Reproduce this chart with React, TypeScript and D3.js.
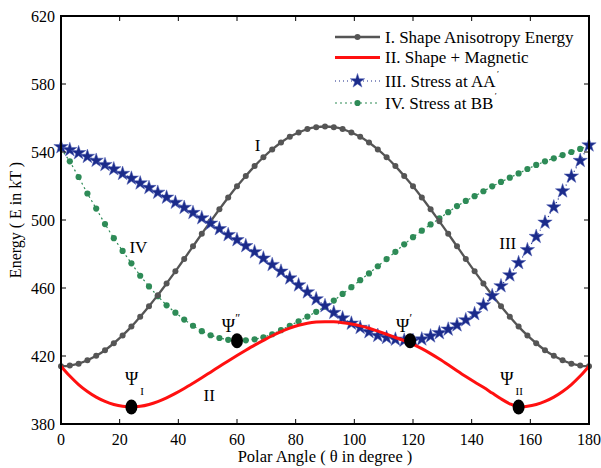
import React, { useRef, useEffect } from "react";
import * as d3 from "d3";

// polar angle grid (degrees)
const angles = [
    0, 3, 6, 9, 12, 15, 18, 21, 24, 27, 30, 33, 36, 39, 42, 45, 48, 51, 54, 57, 60,
    63, 66, 69, 72, 75, 78, 81, 84, 87, 90, 93, 96, 99, 102, 105, 108, 111, 114, 117, 120,
    123, 126, 129, 132, 135, 138, 141, 144, 147, 150, 153, 156, 159, 162, 165, 168, 171, 174, 177, 180,
];

// I. Shape Anisotropy Energy
const shapeEnergy = [
    414, 414.4, 415.5, 417.5, 420.1, 423.4, 427.5, 432.1, 437.3, 443.1, 449.3,
    455.8, 462.7, 469.8, 477.1, 484.5, 491.9, 499.2, 506.3, 513.2, 519.8,
    525.9, 531.7, 536.9, 541.5, 545.6, 548.9, 551.5, 553.5, 554.6, 555,
    554.6, 553.5, 551.5, 548.9, 545.6, 541.5, 536.9, 531.7, 525.9, 519.8,
    513.2, 506.3, 499.2, 491.9, 484.5, 477.1, 469.8, 462.7, 455.8, 449.3,
    443.1, 437.3, 432.1, 427.5, 423.4, 420.1, 417.5, 415.5, 414.4, 414,
];

// II. Shape + Magnetic
const shapeMagnetic = [
    414, 408.2, 403.2, 399.1, 395.8, 393.3, 391.5, 390.4, 390, 390.4, 391.5,
    393.2, 395.4, 398, 400.9, 404, 407.2, 410.5, 413.8, 417.1, 420.3,
    423.4, 426.4, 429.2, 431.9, 434.3, 436.4, 438.1, 439.3, 440, 440.2,
    440.1, 439.6, 438.8, 437.7, 436.3, 434.6, 432.8, 430.9, 429, 426.8,
    424.3, 421.4, 418.2, 414.8, 411.3, 407.9, 404.7, 401.6, 398.2, 394.8,
    391.9, 390, 390.4, 391.5, 393.3, 395.8, 399.1, 403.2, 408.2, 414,
];

// III. Stress at AA'
const stressAA = [
    543, 541.3, 539.5, 537.3, 535, 532.5, 530, 527.3, 524.5, 521.7, 519,
    516.2, 513.3, 510.3, 507.3, 504.3, 501.2, 498, 494.8, 491.3, 488.3,
    484.8, 481.2, 477.5, 473.7, 469.8, 465.8, 461.7, 457.6, 453.5, 449.5,
    445.5, 442.3, 439.2, 436.7, 434.2, 432, 430.8, 429.8, 429.2, 429,
    429.9, 431.7, 433.6, 435.7, 438.2, 441.2, 444.8, 450, 455.4, 461.2,
    467.6, 474.8, 482.4, 490.2, 498.6, 507.6, 517, 525.7, 534.9, 544,
];

// IV. Stress at BB'
const stressBB = [
    542, 534.5, 525.3, 515.6, 506.7, 497.6, 489.3, 481.8, 474.5, 467.2, 460.9,
    455.2, 449.8, 445.5, 441.4, 437.8, 434.6, 432.2, 430.6, 429.5, 429,
    429.2, 429.8, 431, 432.8, 435.2, 437.8, 440.4, 443.2, 446, 449,
    452.6, 456.5, 460.5, 464.6, 468.6, 472.8, 477, 481.3, 485.7, 489.9,
    493.7, 497.4, 500.9, 504.6, 508.2, 511.2, 514, 516.9, 519.8, 522.4,
    524.9, 527.4, 530, 532.4, 534.5, 536.3, 538.2, 540, 541.8, 543.5,
];

const xTicks = [0, 20, 40, 60, 80, 100, 120, 140, 160, 180];
const yTicks = [380, 420, 460, 500, 540, 580, 620];

// marked minima: angle, energy, label suffix
const minimaAngles = [24, 60, 119, 156];
const minimaEnergies = [390, 429, 429, 390];
const minimaSubs = ["I", "″", "′", "II"];

// curve labels: text, angle, energy
const curveNames = ["I", "II", "III", "IV"];
const curveNameAngles = [67, 50.5, 152.3, 26.4];
const curveNameEnergies = [544, 397, 486.6, 484.3];

const legendLabels = [
    "I.  Shape Anisotropy Energy",
    "II. Shape + Magnetic",
    "III. Stress at AA",
    "IV. Stress at BB",
];

const FONT = '"Liberation Serif", "Times New Roman", "DejaVu Serif", serif';

const App = () => {
    const ref = useRef(null);

    useEffect(() => {
        const svg = d3.select(ref.current);
        svg.selectAll("*").remove();

        const left = 61, right = 589, top = 16, bottom = 424;

        const x = d3.scaleLinear().domain([0, 180]).range([left, right]);
        const y = d3.scaleLinear().domain([380, 620]).range([bottom, top]);

        const gray = "#555555";
        const red = "#ff1010";
        const blue = "#1b2b8a";
        const green = "#2e8b57";

        const txt = (g, size) =>
            g.append("text")
                .style("font-family", FONT)
                .style("font-size", size + "px")
                .attr("fill", "black");

        const line = d3
            .line()
            .x((d) => x(d[0]))
            .y((d) => y(d[1]));

        const smooth = d3
            .line()
            .x((d) => x(d[0]))
            .y((d) => y(d[1]))
            .curve(d3.curveCatmullRom);

        const pts = (vals) => angles.map((a, i) => [a, vals[i]]);

        const plot = svg.append("g");

        // IV green dash-dot with dots
        plot.append("path")
            .datum(pts(stressBB))
            .attr("fill", "none")
            .attr("stroke", green)
            .attr("stroke-width", 1.2)
            .attr("stroke-dasharray", "2,3")
            .attr("d", line);
        plot.selectAll(".gdot")
            .data(pts(stressBB))
            .join("circle")
            .attr("cx", (d) => x(d[0]))
            .attr("cy", (d) => y(d[1]))
            .attr("r", 3.1)
            .attr("fill", green);

        // I gray solid with dots
        plot.append("path")
            .datum(pts(shapeEnergy))
            .attr("fill", "none")
            .attr("stroke", gray)
            .attr("stroke-width", 2.3)
            .attr("d", smooth);
        plot.selectAll(".kdot")
            .data(pts(shapeEnergy))
            .join("circle")
            .attr("cx", (d) => x(d[0]))
            .attr("cy", (d) => y(d[1]))
            .attr("r", 3)
            .attr("fill", gray);

        // III blue dotted with stars
        plot.append("path")
            .datum(pts(stressAA))
            .attr("fill", "none")
            .attr("stroke", blue)
            .attr("stroke-width", 1.2)
            .attr("stroke-dasharray", "1,3")
            .attr("d", line);
        const star = d3.symbol().type(d3.symbolStar).size(64);
        plot.selectAll(".star")
            .data(pts(stressAA))
            .join("path")
            .attr("transform", (d) => `translate(${x(d[0])},${y(d[1])})`)
            .attr("d", star)
            .attr("fill", blue)
            .attr("stroke", "#4e5eb4")
            .attr("stroke-width", 0.5);

        // II red
        plot.append("path")
            .datum(pts(shapeMagnetic))
            .attr("fill", "none")
            .attr("stroke", red)
            .attr("stroke-width", 3)
            .attr("d", smooth);

        // minima markers and labels
        minimaAngles.forEach((a, i) => {
            const cx = x(a), cy = y(minimaEnergies[i]);
            plot.append("ellipse")
                .attr("cx", cx)
                .attr("cy", cy)
                .attr("rx", 6)
                .attr("ry", 7.5)
                .attr("fill", "black");
            const sub = minimaSubs[i];
            const isPrime = sub === "′" || sub === "″";
            const lx = isPrime ? cx - 6 : cx + (i === 0 ? 3 : -7);
            const ly = isPrime ? cy - 9 : cy - 22;
            const t = txt(plot, 18)
                .attr("x", lx)
                .attr("y", ly)
                .attr("text-anchor", "middle")
                .text("Ψ");
            t.append("tspan")
                .style("font-size", (isPrime ? 12 : 11) + "px")
                .attr("dx", isPrime ? 0 : 2)
                .attr("dy", isPrime ? -10 : 10)
                .text(sub);
        });

        // curve names
        curveNames.forEach((n, i) => {
            txt(plot, 17)
                .attr("x", x(curveNameAngles[i]))
                .attr("y", y(curveNameEnergies[i]))
                .attr("dy", "0.35em")
                .attr("text-anchor", "middle")
                .text(n);
        });

        // frame
        svg.append("rect")
            .attr("x", left)
            .attr("y", top)
            .attr("width", right - left)
            .attr("height", bottom - top)
            .attr("fill", "none")
            .attr("stroke", "black")
            .attr("stroke-width", 2);

        // ticks (inward, all sides)
        const ticks = svg.append("g").attr("stroke", "black").attr("stroke-width", 1);
        xTicks.forEach((t) => {
            ticks.append("line").attr("x1", x(t)).attr("x2", x(t)).attr("y1", bottom).attr("y2", bottom - 5);
            ticks.append("line").attr("x1", x(t)).attr("x2", x(t)).attr("y1", top).attr("y2", top + 5);
        });
        yTicks.forEach((t) => {
            ticks.append("line").attr("x1", left).attr("x2", left + 5).attr("y1", y(t)).attr("y2", y(t));
            ticks.append("line").attr("x1", right).attr("x2", right - 5).attr("y1", y(t)).attr("y2", y(t));
        });

        const labels = svg.append("g");
        xTicks.forEach((t) => {
            txt(labels, 16)
                .attr("x", x(t))
                .attr("y", bottom + 21)
                .attr("text-anchor", "middle")
                .text(t);
        });
        yTicks.forEach((t) => {
            txt(labels, 16)
                .attr("x", left - 6)
                .attr("y", y(t))
                .attr("dy", "0.35em")
                .attr("text-anchor", "end")
                .text(t);
        });

        txt(labels, 16.5)
            .attr("x", (left + right) / 2)
            .attr("y", 462)
            .attr("text-anchor", "middle")
            .text("Polar Angle ( θ in degree )");

        txt(labels, 16)
            .attr("transform", `translate(21,${(top + bottom) / 2}) rotate(-90)`)
            .attr("text-anchor", "middle")
            .text("Energy ( E in kT )");

        // legend
        const lg = svg.append("g");
        const rows = [37, 57.5, 81, 103];
        const lx0 = 335, lx1 = 380;
        const mid = (lx0 + lx1) / 2;

        lg.append("line").attr("x1", lx0).attr("x2", lx1).attr("y1", rows[0]).attr("y2", rows[0])
            .attr("stroke", gray).attr("stroke-width", 2.3);
        lg.append("circle").attr("cx", mid).attr("cy", rows[0]).attr("r", 3).attr("fill", gray);

        lg.append("line").attr("x1", lx0).attr("x2", lx1).attr("y1", rows[1]).attr("y2", rows[1])
            .attr("stroke", red).attr("stroke-width", 3);

        lg.append("line").attr("x1", lx0).attr("x2", lx1).attr("y1", rows[2]).attr("y2", rows[2])
            .attr("stroke", blue).attr("stroke-width", 1.2).attr("stroke-dasharray", "1,3");
        lg.append("path").attr("transform", `translate(${mid},${rows[2]})`).attr("d", star)
            .attr("fill", blue).attr("stroke", "#4e5eb4").attr("stroke-width", 0.5);

        lg.append("line").attr("x1", lx0).attr("x2", lx1).attr("y1", rows[3]).attr("y2", rows[3])
            .attr("stroke", green).attr("stroke-width", 1.2).attr("stroke-dasharray", "2,3");
        lg.append("circle").attr("cx", mid).attr("cy", rows[3]).attr("r", 3.1).attr("fill", green);

        legendLabels.forEach((s, i) => {
            const t = txt(lg, 17)
                .attr("x", 385)
                .attr("y", rows[i])
                .attr("dy", "0.35em")
                .text(s);
            if (i >= 2) {
                const end = 385 + t.node().getComputedTextLength();
                txt(lg, 9)
                    .attr("x", end + 1.5)
                    .attr("y", rows[i] - 4)
                    .text("′");
            }
        });
    }, []);

    return (
        <svg
            ref={ref}
            width={601}
            height={468}
            style={{ position: "absolute", left: 0, top: 0, background: "white" }}
        />
    );
};

export default App;
